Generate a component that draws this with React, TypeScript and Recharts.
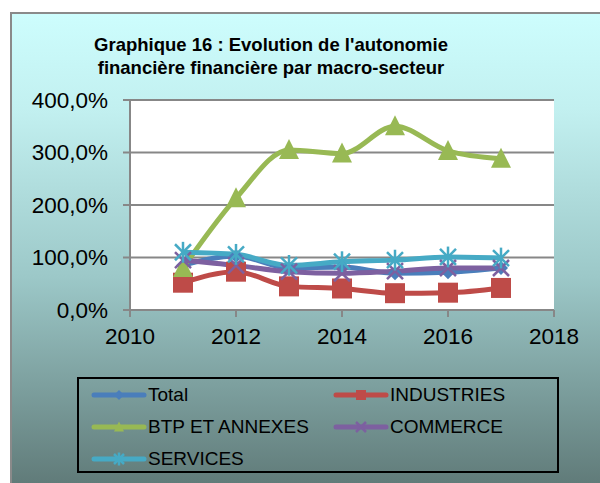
import React from 'react';
import { LineChart, Line, XAxis, YAxis, CartesianGrid } from 'recharts';

// values (percent)
const years = [2011, 2012, 2013, 2014, 2015, 2016, 2017];
const total = [85, 103, 80, 82, 70, 72, 80];
const industries = [52, 73, 45, 41, 32, 33, 42];
const btp = [80, 213, 305, 298, 350, 303, 288];
const commerce = [95, 85, 73, 70, 74, 80, 80];
const services = [110, 106, 85, 92, 95, 101, 99];

const xTicks = [2010, 2012, 2014, 2016, 2018];
const yTicks = [0, 100, 200, 300, 400];

const series = [
  { key: 'total', name: 'Total', color: '#4a7ebb', shape: 'diamond' },
  { key: 'industries', name: 'INDUSTRIES', color: '#be4b48', shape: 'square' },
  { key: 'btp', name: 'BTP ET ANNEXES', color: '#98b954', shape: 'triangle' },
  { key: 'commerce', name: 'COMMERCE', color: '#7d60a0', shape: 'cross' },
  { key: 'services', name: 'SERVICES', color: '#46aac5', shape: 'star' },
];

const data = years.map((year, i) => ({
  year,
  total: total[i],
  industries: industries[i],
  btp: btp[i],
  commerce: commerce[i],
  services: services[i],
}));

const FONT = '"Liberation Sans", Arial, sans-serif';

function Marker({ cx, cy, shape, color, s }: any) {
  if (cx == null || cy == null) return null;
  if (shape === 'diamond') {
    return <path d={`M${cx},${cy - s}L${cx + s},${cy}L${cx},${cy + s}L${cx - s},${cy}Z`} fill={color} />;
  }
  if (shape === 'square') {
    return <rect x={cx - s} y={cy - s} width={2 * s} height={2 * s} fill={color} />;
  }
  if (shape === 'triangle') {
    return <path d={`M${cx},${cy - s * 1.1}L${cx + s},${cy + s * 0.9}L${cx - s},${cy + s * 0.9}Z`} fill={color} />;
  }
  if (shape === 'cross') {
    return (
      <g stroke={color} strokeWidth={2.5}>
        <line x1={cx - s} y1={cy - s} x2={cx + s} y2={cy + s} />
        <line x1={cx - s} y1={cy + s} x2={cx + s} y2={cy - s} />
      </g>
    );
  }
  // star: X plus vertical bar
  return (
    <g stroke={color} strokeWidth={2.5}>
      <line x1={cx - s} y1={cy - s} x2={cx + s} y2={cy + s} />
      <line x1={cx - s} y1={cy + s} x2={cx + s} y2={cy - s} />
      <line x1={cx} y1={cy - s * 1.3} x2={cx} y2={cy + s * 1.3} />
    </g>
  );
}

const markerSize: Record<string, number> = {
  diamond: 7,
  square: 10,
  triangle: 10,
  cross: 8,
  star: 8,
};

const pct = (v: number) => `${v.toFixed(1).replace('.', ',')}%`;

function LegendBox() {
  return (
    <div
      style={{
        position: 'absolute',
        left: 77,
        top: 377,
        width: 482,
        height: 96,
        border: '2px solid #000',
        boxSizing: 'border-box',
        fontFamily: FONT,
        fontSize: 19,
        color: '#000',
      }}
    >
      {series.map((s, i) => {
        const col = i % 2;
        const row = Math.floor(i / 2);
        return (
          <div
            key={s.key}
            style={{
              position: 'absolute',
              left: col === 0 ? 12 : 254,
              top: 4 + row * 32,
              height: 24,
              display: 'flex',
              alignItems: 'center',
            }}
          >
            <svg width={56} height={24} style={{ display: 'block' }}>
              <line x1={3} y1={12} x2={53} y2={12} stroke={s.color} strokeWidth={5} strokeLinecap="round" />
              <Marker cx={28} cy={12} shape={s.shape} color={s.color} s={5} />
            </svg>
            <span style={{ marginLeft: 1 }}>{s.name}</span>
          </div>
        );
      })}
    </div>
  );
}

export default function App() {
  return (
    <div style={{ position: 'absolute', left: 0, top: 0, width: 600, height: 483, background: '#fff', overflow: 'hidden' }}>
      <div
        style={{
          position: 'absolute',
          left: 10,
          top: 12,
          width: 600,
          height: 480,
          boxSizing: 'border-box',
          borderLeft: '2px solid #8a8a8a',
          borderTop: '2px solid #8a8a8a',
          background: 'linear-gradient(to bottom, #cdfdfd 0%, #c2f0f0 20%, #9cc8c8 55%, #5e7876 100%)',
        }}
      />
      <div
        style={{
          position: 'absolute',
          left: 60,
          width: 422,
          top: 33,
          textAlign: 'center',
          fontFamily: FONT,
          fontWeight: 'bold',
          fontSize: 18.5,
          lineHeight: '23px',
          color: '#000',
        }}
      >
        Graphique 16 : Evolution de l'autonomie
        <br />
        financière financière par macro-secteur
      </div>
      <div style={{ position: 'absolute', left: 0, top: 0 }}>
        <LineChart width={600} height={483} data={data} margin={{ top: 100, right: 46, bottom: 143, left: 40 }}>
          <CartesianGrid horizontal vertical={false} fill="#fff" stroke="#878787" strokeWidth={2} />
          <XAxis
            dataKey="year"
            type="number"
            domain={[2010, 2018]}
            ticks={xTicks}
            interval={0}
            height={30}
            tickSize={7}
            tickMargin={11}
            axisLine={{ stroke: '#878787', strokeWidth: 2 }}
            tickLine={{ stroke: '#878787', strokeWidth: 2 }}
            tick={{ fill: '#000', fontSize: 22.5, fontFamily: FONT }}
          />
          <YAxis
            type="number"
            domain={[0, 400]}
            ticks={yTicks}
            interval={0}
            width={90}
            tickSize={7}
            tickMargin={15}
            tickFormatter={pct}
            axisLine={{ stroke: '#878787', strokeWidth: 2 }}
            tickLine={{ stroke: '#878787', strokeWidth: 2 }}
            tick={{ fill: '#000', fontSize: 22.5, fontFamily: FONT }}
          />
          {series.map((s) => (
            <Line
              key={s.key}
              dataKey={s.key}
              name={s.name}
              type="monotone"
              stroke={s.color}
              strokeWidth={5}
              isAnimationActive={false}
              dot={(p: any) => (
                <Marker key={`${s.key}-${p.index}`} cx={p.cx} cy={p.cy} shape={s.shape} color={s.color} s={markerSize[s.shape]} />
              )}
              activeDot={false}
            />
          ))}
        </LineChart>
      </div>
      <LegendBox />
    </div>
  );
}
